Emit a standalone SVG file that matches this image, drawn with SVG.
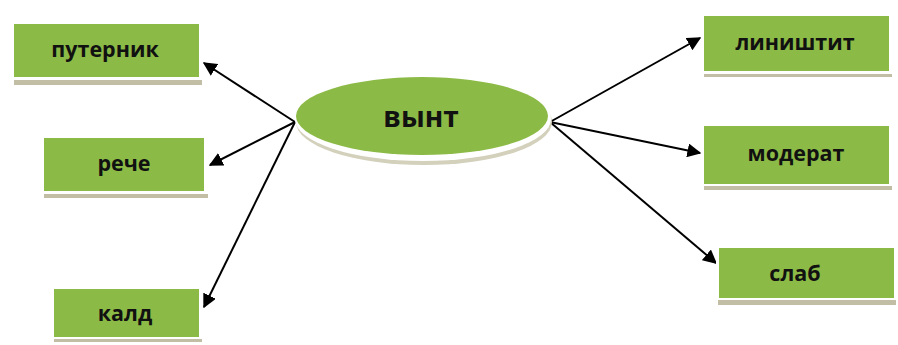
<svg xmlns="http://www.w3.org/2000/svg" width="898" height="345" viewBox="0 0 898 345">
<defs>
<style>
.sh{fill:#c2bea6}
.bd{fill:#ffffff}
.gr{fill:#8cba46}
.lb{font-family:"Open Sans","Liberation Sans",sans-serif;font-weight:bold;font-size:21.5px;fill:#111;text-anchor:middle}
.cn{stroke:#000;stroke-width:2;fill:none;marker-end:url(#ah)}
</style>
<marker id="ah" viewBox="0 0 10 10" refX="9" refY="5" markerWidth="7" markerHeight="7" orient="auto" markerUnits="strokeWidth">
<path d="M0,0 L10,5 L0,10 z" fill="#000"/>
</marker>
</defs>
<rect width="898" height="345" fill="#ffffff"/>
<g id="connectors">
<line class="cn" x1="295" y1="122" x2="204" y2="63"/>
<line class="cn" x1="295" y1="122" x2="210" y2="165"/>
<line class="cn" x1="295" y1="122" x2="204" y2="307"/>
<line class="cn" x1="550" y1="122" x2="700" y2="38"/>
<line class="cn" x1="550" y1="122" x2="700" y2="153"/>
<line class="cn" x1="550" y1="122" x2="716" y2="263"/>
</g>
<g id="center">
<ellipse cx="424" cy="122" rx="128" ry="43" fill="#d3d0bb"/>
<ellipse cx="423" cy="119" rx="128" ry="42" fill="#ffffff"/>
<ellipse cx="422" cy="116" rx="126" ry="39" fill="#8cba46"/>
<text x="421" y="127" class="lb" style="font-size:28px">вынт</text>
</g>
<g id="n1">
<rect class="sh" x="14" y="26" width="188" height="59"/>
<rect class="bd" x="11" y="21" width="191" height="59"/>
<rect class="gr" x="14" y="24" width="185" height="53"/>
<text x="105" y="57" class="lb">путерник</text>
</g>
<g id="n2">
<rect class="sh" x="44" y="140" width="164" height="58"/>
<rect class="bd" x="41" y="135" width="167" height="59"/>
<rect class="gr" x="44" y="138" width="160" height="53"/>
<text x="124" y="171" class="lb">рече</text>
</g>
<g id="n3">
<rect class="sh" x="54" y="291" width="148" height="51"/>
<rect class="bd" x="51" y="286" width="151" height="53"/>
<rect class="gr" x="54" y="289" width="145" height="48"/>
<text x="125" y="321" class="lb">калд</text>
</g>
<g id="n4">
<rect class="sh" x="704" y="18" width="188" height="59"/>
<rect class="bd" x="701" y="13" width="191" height="61"/>
<rect class="gr" x="704" y="16" width="185" height="55"/>
<text x="795" y="50" class="lb">лиништит</text>
</g>
<g id="n5">
<rect class="sh" x="704" y="128" width="188" height="62"/>
<rect class="bd" x="701" y="123" width="191" height="63"/>
<rect class="gr" x="704" y="126" width="185" height="58"/>
<text x="796" y="161" class="lb">модерат</text>
</g>
<g id="n6">
<rect class="sh" x="718" y="250" width="178" height="55"/>
<rect class="bd" x="716" y="245" width="180" height="55"/>
<rect class="gr" x="719" y="248" width="175" height="50"/>
<text x="795" y="281" class="lb">слаб</text>
</g>
</svg>
